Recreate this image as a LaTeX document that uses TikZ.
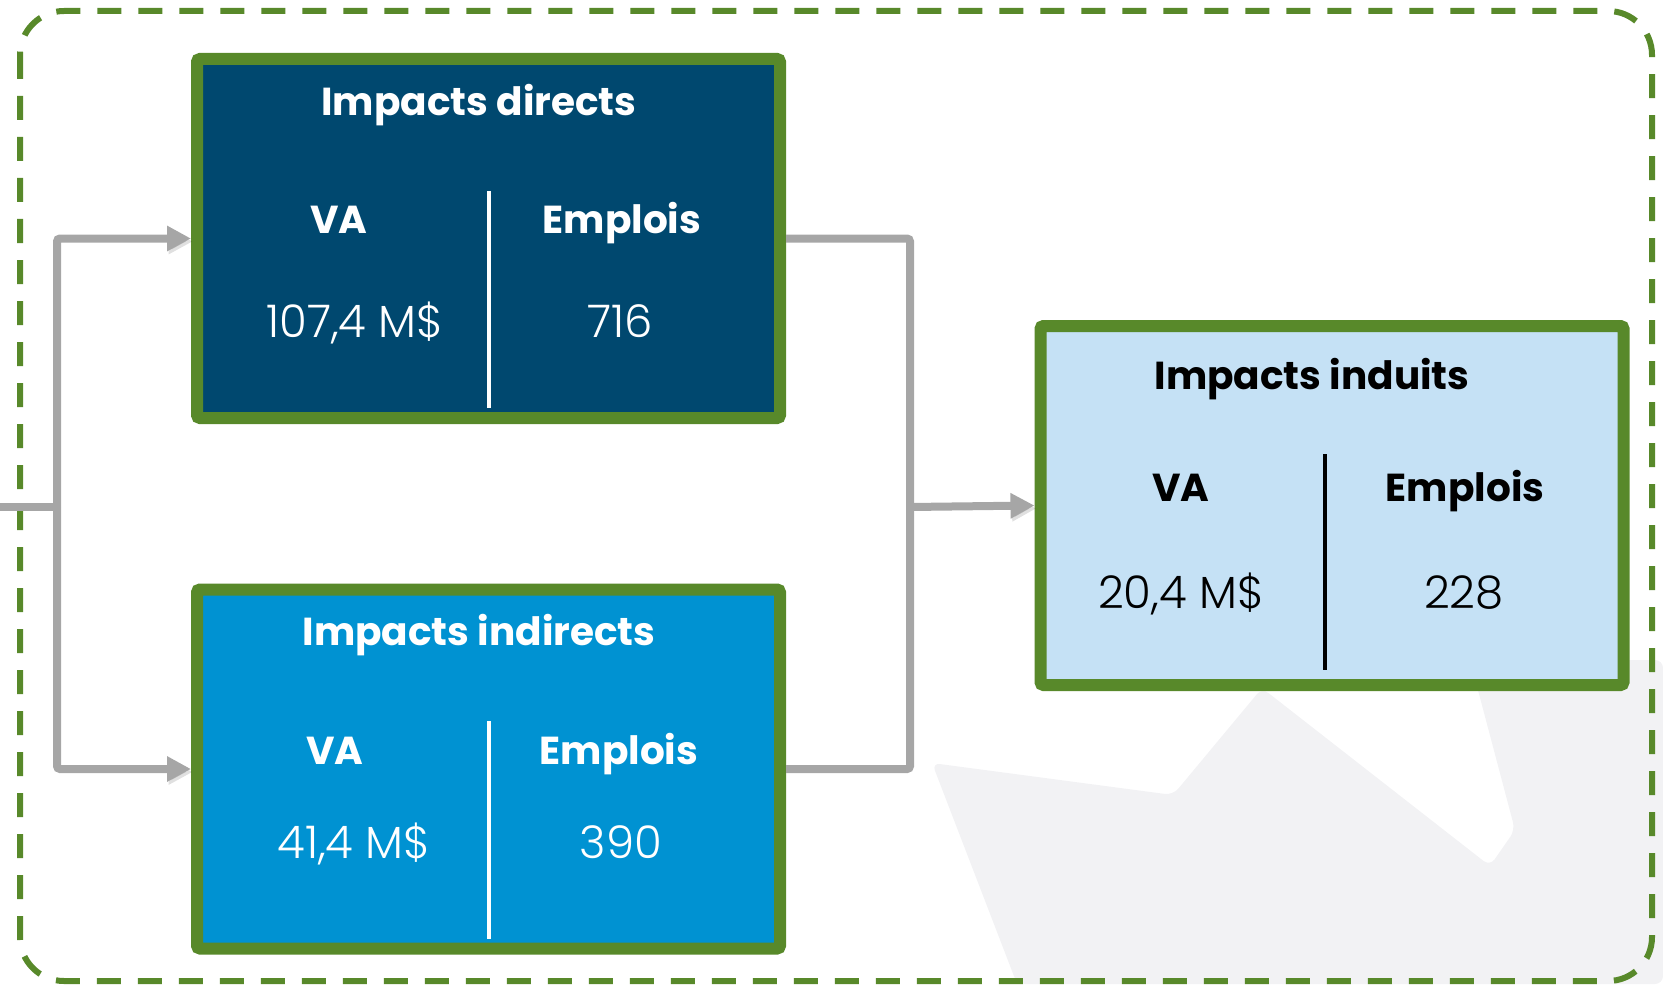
\documentclass[tikz,border=0pt]{standalone}
\usepackage{fontspec}
\setmainfont{Poppins}
\newfontfamily\numfont{Poppins Light}
\usetikzlibrary{arrows.meta}

\definecolor{leafgreen}{HTML}{58892A}
\definecolor{darkblue}{HTML}{00486F}
\definecolor{midblue}{HTML}{0092D2}
\definecolor{paleblue}{HTML}{C5E1F5}
\definecolor{conngray}{HTML}{A6A6A6}
\definecolor{leafgray}{HTML}{F2F2F4}

\tikzset{
  box/.style={draw=leafgreen, line width=6pt, rounded corners=1.5pt,
    minimum width=291.5pt, minimum height=179.5pt, inner sep=0pt},
  conn/.style={draw=conngray, line width=4pt, rounded corners=1.5pt,
    preaction={draw=black, opacity=0.12, transform canvas={shift={(0.8pt,-1.5pt)}}}},
  tip/.style={-{Triangle[length=12pt, width=12pt]}},
  lbl/.style={font=\fontsize{19.5}{24}\selectfont\bfseries, anchor=base, inner sep=0pt},
  num/.style={font=\fontsize{22.5}{26}\numfont, anchor=base, inner sep=0pt},
}

\begin{document}
\begin{tikzpicture}[x=0.5pt, y=-0.5pt]
    \useasboundingbox (0,0) rectangle (1663,984);

    % feuille en fond
    \fill[leafgray, rounded corners=4pt] (932,763) -- (1173,795) -- (1262,688)
        -- (1490,866) -- (1515,830) -- (1470,660) -- (1663,660)
        -- (1663,984) -- (1017,984) -- cycle;

    \draw[leafgreen, line width=3pt, dash pattern=on 12pt off 8.5pt,
          rounded corners=22pt] (20,11) rectangle (1652,981);

    % boites
    \node[box, fill=darkblue] (dir) at (488.5,238.5) {};
    \node[box, fill=midblue] (ind) at (488.5,769) {};
    \node[box, fill=paleblue] (indu) at (1332,505.5) {};

    \coordinate (in) at (0,507);
    \coordinate (jl) at (57,507);
    \coordinate (jr) at (910,507);

    \draw[conn] (in) -- (jl);
    \draw[conn, tip] (jl) |- (dir.west);
    \draw[conn, tip] (jl) |- (ind.west);
    \draw[conn] (dir.east) -| (jr);
    \draw[conn] (ind.east) -| (jr);
    \draw[conn, tip] (jr) -- (indu.west);

    \draw[white, line width=2pt] (489,191) -- (489,408);
    \draw[white, line width=2pt] (489,721) -- (489,939);
    \draw[black, line width=2pt] (1325,454) -- (1325,670);

    \node[lbl, white] (dirtitle) at (479,116) {Impacts directs};
    \node[lbl, white] (dirva) at (339,234) {VA};
    \node[lbl, white] (diremp) at (622,234) {Emplois};
    \node[num, white] (dirvanum) at (355,337) {107,4 M\$};
    \node[num, white] (diremnum) at (620,337) {716};

    \node[lbl, white] (indtitle) at (479,645) {Impacts indirects};
    \node[lbl, white] (indva) at (335,764) {VA};
    \node[lbl, white] (indemp) at (619,764) {Emplois};
    \node[num, white] (indvanum) at (354,858) {41,4 M\$};
    \node[num, white] (indemnum) at (621,858) {390};

    \node[lbl] (indutitle) at (1312,389) {Impacts induits};
    \node[lbl] (induva) at (1181,501) {VA};
    \node[lbl] (induemp) at (1465,501) {Emplois};
    \node[num] (induvanum) at (1181,608) {20,4 M\$};
    \node[num] (induemnum) at (1464,608) {228};
  \end{tikzpicture}
\end{document}
